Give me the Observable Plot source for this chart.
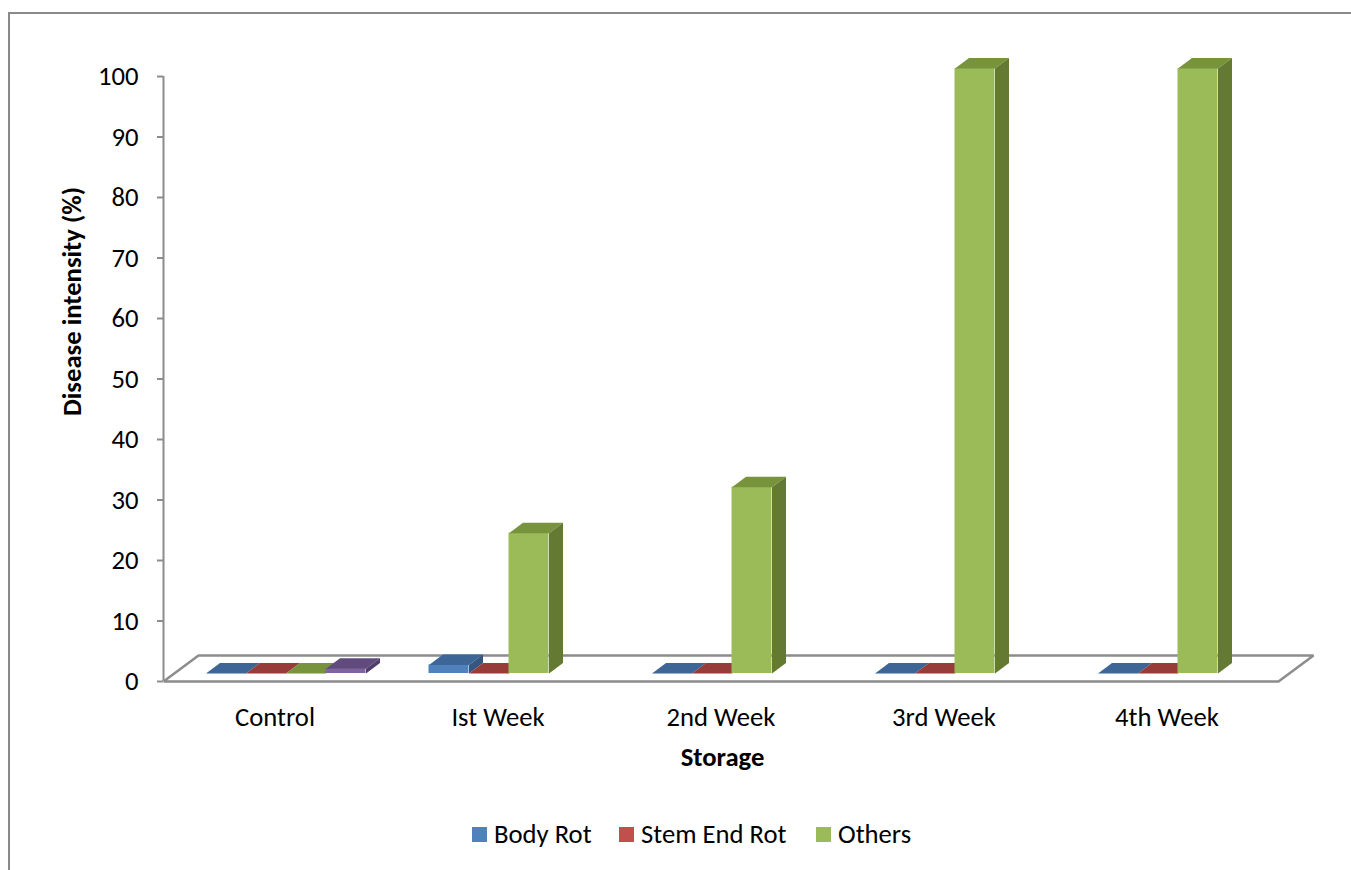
<!DOCTYPE html>
<html>
<head>
<meta charset="utf-8">
<script src="https://cdn.jsdelivr.net/npm/d3@7"></script>
<script src="https://cdn.jsdelivr.net/npm/@observablehq/plot@0.6"></script>
<style>
  html, body { margin: 0; padding: 0; background: #fff; overflow: hidden; }
  body { width: 1351px; height: 870px; position: relative; font-family: Calibri, Carlito, "Open Sans", sans-serif; }
  #frame { position: absolute; left: 8px; top: 12px; width: 2000px; height: 2000px;
           border-left: 2px solid #8a8a8a; border-top: 2px solid #8a8a8a; }
  #chart { position: absolute; left: 0; top: 0; }
  #legend { position: absolute; top: 819px; left: 0; width: 1351px; height: 30px; font-size: 26.67px; color: #000; }
  .item { position: absolute; top: 0; height: 30px; display: flex; align-items: center; white-space: nowrap; }
  .sw { width: 15px; height: 15px; margin-right: 7px; display: inline-block; }
</style>
</head>
<body>
<div id="frame"></div>
<div id="chart"></div>
<div id="legend"></div>
<script>
// ---- data ----
const categories = ["Control", "Ist Week", "2nd Week", "3rd Week", "4th Week"];
const seriesNames = ["Body Rot", "Stem End Rot", "Others", ""];
const bodyRot    = [0, 1.4, 0, 0, 0];
const stemEndRot = [0, 0, 0, 0, 0];
const others     = [0, 23.2, 30.8, 100, 100];
const fourth     = [0.8, null, null, null, null]; // unlabeled 4th series (Control only)
const yTicks = [0, 10, 20, 30, 40, 50, 60, 70, 80, 90, 100];
const yLabel = "Disease intensity (%)";
const xLabel = "Storage";

// face colors: [front, top, side]
const palette = [
  ["#4F81BD", "#3D6696", "#345780"],
  ["#C0504D", "#983C3A", "#7F3230"],
  ["#9BBB59", "#77933C", "#647A33"],
  ["#8064A2", "#604A7E", "#503E69"]
];
const seriesValues = [bodyRot, stemEndRot, others, fourth];

// ---- layout ----
const FS = 26.67;
const W = 1351, H = 800;
const mL = 163, mR = 73, mT = 76, mB = H - 681;
const pxX = (W - mL - mR) / categories.length;   // px per category unit
const pxY = (H - mT - mB) / 100;                  // px per percent
const slot = 40 / pxX;                            // bar width in x units
const bdx = 14 / pxX, bdy = 10.5 / pxY;           // bar depth
const fdx = 35 / pxX, fdy = 26 / pxY;             // floor depth
const offX = 11, offY = -8;                       // bars sit mid-depth

const nSlots = seriesValues.length;
const marks = [];

// floor
const n = categories.length;
const floorPts = [
  {x: 0, y: 0}, {x: n, y: 0}, {x: n + fdx, y: fdy}, {x: fdx, y: fdy}, {x: 0, y: 0}
];
marks.push(Plot.line(floorPts, {x: "x", y: "y", stroke: "#8c8c8c", strokeWidth: 2.5, strokeLinejoin: "miter", strokeLinecap: "butt"}));

// bars, painter's order by series
seriesValues.forEach((vals, s) => {
  const rows = [];
  vals.forEach((v, i) => {
    if (v == null) return;
    const x1 = i + 0.5 - (nSlots / 2) * slot + s * slot;
    rows.push({i, v, x1, x2: x1 + slot});
  });
  const [cFront, cTop, cSide] = palette[s];
  const top = [], side = [];
  rows.forEach(r => {
    const id = `${s}-${r.i}`;
    top.push({id, x: r.x1, y: r.v}, {id, x: r.x2, y: r.v}, {id, x: r.x2 + bdx, y: r.v + bdy}, {id, x: r.x1 + bdx, y: r.v + bdy});
    side.push({id, x: r.x2, y: 0}, {id, x: r.x2, y: r.v}, {id, x: r.x2 + bdx, y: r.v + bdy}, {id, x: r.x2 + bdx, y: bdy});
  });
  marks.push(Plot.rect(rows, {x1: "x1", x2: "x2", y1: () => 0, y2: "v", fill: cFront, dx: offX, dy: offY}));
  marks.push(Plot.line(top, {x: "x", y: "y", z: "id", fill: cTop, stroke: "none", dx: offX, dy: offY}));
  marks.push(Plot.line(side, {x: "x", y: "y", z: "id", fill: cSide, stroke: "none", dx: offX, dy: offY}));
});

// y axis line + ticks
marks.push(Plot.ruleX([0], {y1: () => 0, y2: () => 100, stroke: "#8c8c8c", strokeWidth: 2}));
marks.push(Plot.axisY({ticks: yTicks, tickSize: 6, tickPadding: 19, stroke: "#8c8c8c", strokeWidth: 2, fill: "#000", fontSize: FS, label: null}));

// category labels
marks.push(Plot.text(categories, {x: (d, i) => i + 0.5, frameAnchor: "bottom", dy: 44, fontSize: FS, fill: "#000", text: d => d}));
// axis titles
marks.push(Plot.text([xLabel], {frameAnchor: "bottom", dx: 1.5, dy: 84, fontSize: FS, fontWeight: "bold", fill: "#000", text: d => d}));
marks.push(Plot.text([yLabel], {frameAnchor: "top-left", textAnchor: "middle", lineAnchor: "middle", dx: -91, dy: 225, rotate: -90, fontSize: FS, fontWeight: "bold", fill: "#000", text: d => d}));

const chart = Plot.plot({
  width: W, height: H,
  marginLeft: mL, marginRight: mR, marginTop: mT, marginBottom: mB,
  x: {domain: [0, n], axis: null},
  y: {domain: [0, 100], axis: null, label: null},
  style: {fontFamily: 'Calibri, Carlito, "Open Sans", sans-serif', background: "transparent", overflow: "visible"},
  marks
});
document.getElementById("chart").appendChild(chart);

// legend
const legendPos = [472, 619, 816];
const legend = document.getElementById("legend");
seriesNames.slice(0, 3).forEach((name, s) => {
  const it = document.createElement("div");
  it.className = "item";
  it.style.left = legendPos[s] + "px";
  it.innerHTML = `<span class="sw" style="background:${palette[s][0]}"></span><span>${name}</span>`;
  legend.appendChild(it);
});
</script>
</body>
</html>
